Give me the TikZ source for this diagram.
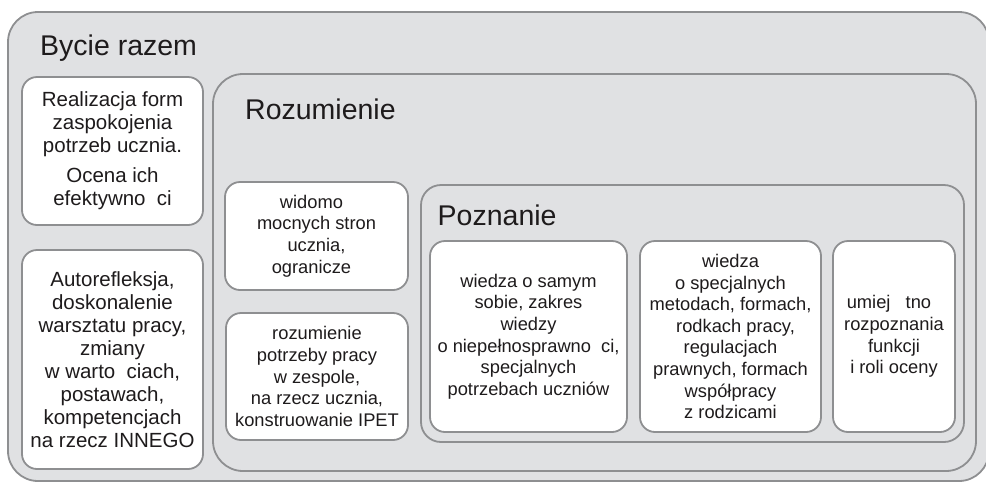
\documentclass[tikz,border=0pt]{standalone}
\usepackage{fontspec}
\setmainfont{Liberation Sans}
\usepackage{tikz}
\definecolor{panelfill}{RGB}{224,225,227}
\definecolor{frameline}{RGB}{142,143,145}
\definecolor{ink}{RGB}{30,27,28}
\tikzstyle{panel}=[draw=frameline,fill=panelfill,line width=1.8pt,inner sep=0pt]
\tikzstyle{card}=[draw=frameline,fill=white,line width=1.8pt,rounded corners=15pt,inner sep=0pt,align=center,text=ink]
\tikzstyle{heading}=[font=\fontsize{28.5}{30}\selectfont,text=ink,anchor=base west,inner sep=0pt]
\tikzstyle{big text}=[font=\fontsize{20.5}{23}\selectfont]
\tikzstyle{small text}=[font=\fontsize{18.3}{21.6}\selectfont]
\newcommand{\luka}{\hspace*{0.55em}}

\begin{document}
\begin{tikzpicture}[x=1pt,y=-1pt]
    \useasboundingbox (0,0) rectangle (986,483);
    % Bycie razem
    \node[panel,rounded corners=30pt,minimum width=981pt,minimum height=469pt] (bycie) at (498.5,246.5) {};
    \node[heading] (bycie title) at (40,55) {Bycie razem};
    \node[card,big text,minimum width=181pt,minimum height=148pt] (realizacja) at (112.5,151)
        {Realizacja form\\zaspokojenia\\potrzeb ucznia.\\[7pt]Ocena ich\\efektywno\luka ci};
    \node[card,big text,minimum width=181pt,minimum height=219pt] (autorefleksja) at (112.5,359.5)
        {Autorefleksja,\\doskonalenie\\warsztatu pracy,\\zmiany\\w warto\luka ciach,\\postawach,\\kompetencjach\\na rzecz INNEGO};
    % Rozumienie
    \node[panel,rounded corners=30pt,minimum width=763pt,minimum height=397pt] (rozumienie) at (594.5,272.5) {};
    \node[heading] (rozumienie title) at (245,119) {Rozumienie};
    \node[card,small text,minimum width=183pt,minimum height=108pt] (widomo) at (316.5,236)
        {widomo\luka\\mocnych stron\\ucznia,\\ogranicze\luka};
    \node[card,small text,minimum width=182pt,minimum height=127pt] (zespol) at (317,376.5)
        {rozumienie\\potrzeby pracy\\w zespole,\\na rzecz ucznia,\\konstruowanie IPET};
    % Poznanie
    \node[panel,rounded corners=20pt,minimum width=543pt,minimum height=257pt] (poznanie) at (692.5,313.5) {};
    \node[heading] (poznanie title) at (437.5,225) {Poznanie};
    \foreach \name/\pos/\cardw/\txt in {
        samowiedza/{(528.5,336.5)}/197/{wiedza o samym\\sobie, zakres\\wiedzy\\o niepełnosprawno\luka ci,\\specjalnych\\potrzebach uczniów},
        metody/{(730.5,336.5)}/181/{wiedza\\o specjalnych\\metodach, formach,\\\luka rodkach pracy,\\regulacjach\\prawnych, formach\\współpracy\\z rodzicami},
        ocena/{(894,336.5)}/122/{umiej\luka{} tno\luka\\rozpoznania\\funkcji\\i roli oceny}}
        \node[card,small text,minimum width=\cardw pt,minimum height=191pt] (\name) at \pos {\txt};
\end{tikzpicture}
\end{document}
